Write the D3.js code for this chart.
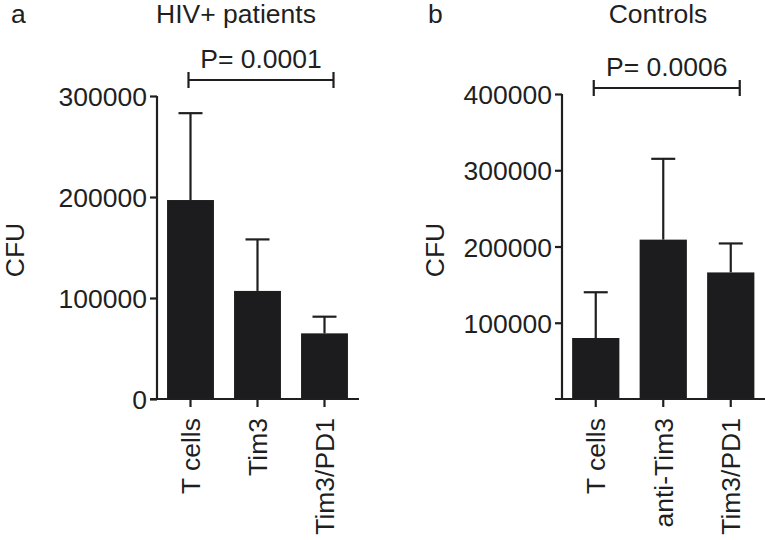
<!DOCTYPE html>
<html>
<head>
<meta charset="utf-8">
<script src="https://cdn.jsdelivr.net/npm/d3@7"></script>
<style>
  html, body { margin: 0; padding: 0; background: #fff; }
  svg { display: block; }
  text { font-family: "Liberation Sans", Arial, Helvetica, sans-serif; fill: #1f1f1f; }
</style>
</head>
<body>
<svg id="chart" width="765" height="540"></svg>
<script>
// ---- Data ----
const categoriesA = ["T cells", "Tim3", "Tim3/PD1"];
const meansA = [197000, 107000, 65000];
const errorsA = [283000, 158000, 81500];   // upper end of error bar
const ticksA = [0, 100000, 200000, 300000];
const titleA = "HIV+ patients";
const pA = "P= 0.0001";

const categoriesB = ["T cells", "anti-Tim3", "Tim3/PD1"];
const meansB = [80000, 209000, 166000];
const errorsB = [140000, 315000, 204000];
const ticksB = [100000, 200000, 300000, 400000];
const titleB = "Controls";
const pB = "P= 0.0006";

const svg = d3.select("#chart");
const ink = "#1f1f1f";
const fs = 26.5;

function panel(opts) {
  const g = svg.append("g");
  const y = d3.scaleLinear().domain([0, opts.ymax]).range([399, opts.ytop]);
  const x = d3.scaleBand().domain(opts.cats).range([opts.x0, opts.x0 + 3 * opts.step])
    .paddingInner(0.3).paddingOuter(0.15);

  // bars
  g.selectAll("rect.bar").data(opts.cats).join("rect")
    .attr("x", d => x(d)).attr("width", x.bandwidth())
    .attr("y", (d, i) => y(opts.means[i]))
    .attr("height", (d, i) => y(0) - y(opts.means[i]))
    .attr("fill", "#1c1c1e");

  // error bars
  const cap = 24;
  opts.cats.forEach((c, i) => {
    const cx = x(c) + x.bandwidth() / 2;
    g.append("line").attr("x1", cx).attr("x2", cx)
      .attr("y1", y(opts.means[i])).attr("y2", y(opts.errs[i]))
      .attr("stroke", ink).attr("stroke-width", 2.2);
    g.append("line").attr("x1", cx - cap / 2).attr("x2", cx + cap / 2)
      .attr("y1", y(opts.errs[i])).attr("y2", y(opts.errs[i]))
      .attr("stroke", ink).attr("stroke-width", 2.2);
  });

  // y axis
  const ya = g.append("g").attr("transform", `translate(${opts.x0},0)`)
    .call(d3.axisLeft(y).tickValues(opts.ticks).tickFormat(d3.format("d"))
      .tickSize(7).tickSizeOuter(0).tickPadding(3));
  ya.select(".domain").attr("stroke", ink).attr("stroke-width", 2.2)
    .attr("d", `M0,${opts.ytop}V${y(0)}`);
  ya.selectAll(".tick line").attr("stroke", ink).attr("stroke-width", 2.2);
  ya.selectAll(".tick text").attr("font-size", fs)
    .style("font-family", '"Liberation Sans", Arial, sans-serif').attr("fill", ink)
    .attr("dy", "0.36em");

  // x axis
  const xa = g.append("g").attr("transform", `translate(0,${y(0)})`)
    .call(d3.axisBottom(x).tickSize(8).tickSizeOuter(0).tickPadding(10));
  xa.select(".domain").attr("stroke", ink).attr("stroke-width", 2.2)
    .attr("d", `M${opts.x0 - 7},0H${opts.xend}`);
  xa.selectAll(".tick line").attr("stroke", ink).attr("stroke-width", 2.2);
  xa.selectAll(".tick text").attr("font-size", fs)
    .style("font-family", '"Liberation Sans", Arial, sans-serif').attr("fill", ink)
    .attr("text-anchor", "end")
    .attr("transform", "rotate(-90)")
    .attr("x", -19).attr("y", 0).attr("dy", "0.36em");

  // y label
  g.append("text").attr("transform", `translate(${opts.ylabX},250) rotate(-90)`)
    .attr("text-anchor", "middle").attr("dy", "0.36em").attr("font-size", fs).text("CFU");

  // title & letter
  g.append("text").attr("x", opts.titleX).attr("y", 23).attr("text-anchor", "middle")
    .attr("font-size", fs).text(opts.title);
  g.append("text").attr("x", opts.letterX).attr("y", 23).attr("font-size", fs).text(opts.letter);

  // significance bracket
  const c1 = x(opts.cats[0]) + x.bandwidth() / 2 - 2;
  const c3 = x(opts.cats[2]) + x.bandwidth() / 2 + 9;
  const by = opts.bracketY;
  g.append("path").attr("d", `M${c1},${by}H${c3}M${c1},${by - 8}V${by + 8}M${c3},${by - 8}V${by + 8}`)
    .attr("stroke", ink).attr("stroke-width", 2.2).attr("fill", "none");
  g.append("text").attr("x", (c1 + c3) / 2).attr("y", by - 12).attr("text-anchor", "middle")
    .attr("font-size", fs).text(opts.p);
}

panel({ cats: categoriesA, means: meansA, errs: errorsA, ticks: ticksA, ymax: 300000, ytop: 96,
  x0: 157, step: 67, xend: 359, title: titleA, titleX: 236, letter: "a", letterX: 11,
  ylabX: 14, bracketY: 80, p: pA });
panel({ cats: categoriesB, means: meansB, errs: errorsB, ticks: ticksB, ymax: 400000, ytop: 94,
  x0: 562, step: 67.5, xend: 765, title: titleB, titleX: 658, letter: "b", letterX: 428,
  ylabX: 434, bracketY: 88, p: pB });
</script>
</body>
</html>
